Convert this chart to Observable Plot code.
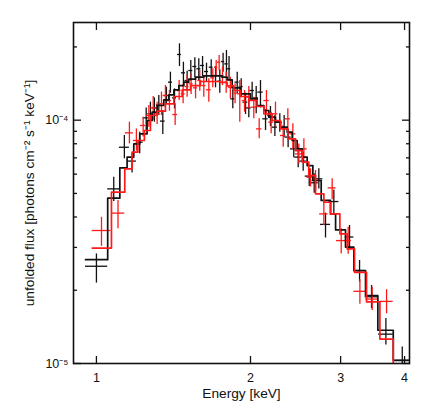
<!DOCTYPE html>
<html><head><meta charset="utf-8">
<script src="https://cdn.jsdelivr.net/npm/d3@7"></script>
<script src="https://cdn.jsdelivr.net/npm/@observablehq/plot@0.6"></script>
<style>body{margin:0;background:#fff} svg{display:block}</style>
</head><body><div id="chart"></div>
<script>
// flux values are in units of 1e-5 photons cm^-2 s^-1 keV^-1
const UNIT = 1e-5;
const xTicks = [1, 2, 3, 4];
const yMajor = [1e-5, 1e-4];
const yMajorLabels = ["10⁻⁵", "10⁻⁴"];
const yMinor = [2e-5, 3e-5, 4e-5, 5e-5, 6e-5, 7e-5, 8e-5, 9e-5, 2e-4];
const xLabel = "Energy [keV]";
const yLabel = "unfolded flux [photons cm⁻² s⁻¹ keV⁻¹]";

// black data set
const blackE   = [1.000,1.081,1.134,1.174,1.215,1.251,1.275,1.298,1.324,1.348,1.370,1.395,1.421,1.453,1.479,1.504,1.529,1.557,1.585,1.612,1.641,1.676,1.709,1.742,1.768,1.795,1.816,1.847,1.884,1.918,1.956,1.985,2.015,2.052,2.092,2.140,2.188,2.232,2.282,2.327,2.369,2.430,2.479,2.535,2.605,2.664,2.720,2.803,2.910,3.123,3.267,3.448,3.678,3.959];
const blackElo = [0.952,1.052,1.109,1.151,1.197,1.234,1.260,1.285,1.310,1.334,1.356,1.383,1.408,1.440,1.466,1.490,1.515,1.543,1.571,1.597,1.626,1.661,1.693,1.726,1.756,1.781,1.803,1.830,1.866,1.900,1.935,1.965,1.994,2.030,2.067,2.114,2.162,2.205,2.255,2.299,2.338,2.394,2.441,2.497,2.558,2.616,2.672,2.741,2.846,3.063,3.184,3.351,3.558,3.830];
const blackEhi = [1.052,1.111,1.160,1.197,1.234,1.268,1.291,1.312,1.338,1.362,1.385,1.408,1.434,1.466,1.493,1.517,1.543,1.571,1.600,1.626,1.656,1.690,1.724,1.758,1.781,1.809,1.830,1.863,1.900,1.935,1.976,2.006,2.036,2.073,2.117,2.165,2.214,2.258,2.309,2.355,2.401,2.467,2.516,2.573,2.652,2.713,2.770,2.867,2.977,3.184,3.351,3.548,3.802,4.092];
const blackF   = [2.51,5.22,7.74,6.79,8.12,10.22,10.62,11.23,11.56,9.91,12.63,14.33,12.35,18.62,15.65,14.55,16.00,16.62,16.26,16.78,15.85,16.51,15.26,14.46,17.42,17.04,16.26,12.24,14.33,13.75,11.86,11.23,13.24,12.35,13.04,10.13,10.45,9.36,9.81,9.30,8.52,7.62,7.05,6.79,5.89,5.53,5.74,3.73,4.63,3.31,2.41,1.88,1.32,1.03];
const blackFhi = [2.82,5.83,8.65,7.27,8.93,11.23,11.86,12.35,12.63,10.96,13.66,15.75,13.45,20.59,17.31,15.90,17.59,18.04,17.87,18.26,17.15,17.70,16.62,16.10,18.85,19.33,18.26,13.33,15.75,14.79,12.91,12.43,14.33,13.75,14.55,11.03,11.38,10.45,10.62,10.45,9.13,8.20,7.74,7.39,6.31,6.02,6.31,4.15,5.17,3.69,2.65,2.09,1.53,1.17];
const blackFlo = [2.14,4.63,6.94,6.06,7.27,9.01,9.51,9.81,10.45,8.73,11.60,12.91,11.13,16.62,14.10,13.16,14.46,14.93,14.55,15.12,14.33,14.93,13.58,12.91,15.75,15.12,14.46,11.13,12.83,12.35,10.55,10.22,11.97,10.62,11.23,9.07,9.42,8.57,8.93,8.46,7.70,7.00,6.37,6.17,5.34,5.01,5.21,3.28,4.12,2.93,2.16,1.68,1.19,0.91];

// red data set
const redE   = [1.023,1.102,1.160,1.197,1.234,1.266,1.291,1.314,1.340,1.364,1.389,1.425,1.451,1.477,1.504,1.531,1.562,1.592,1.621,1.658,1.688,1.714,1.737,1.763,1.793,1.827,1.866,1.906,1.947,1.985,2.030,2.080,2.149,2.195,2.238,2.317,2.366,2.420,2.486,2.543,2.620,2.680,2.782,2.888,3.008,3.104,3.272,3.458,3.689];
const redElo = [0.981,1.070,1.139,1.181,1.219,1.251,1.277,1.300,1.326,1.350,1.377,1.410,1.438,1.464,1.490,1.517,1.547,1.578,1.607,1.641,1.673,1.701,1.724,1.750,1.776,1.811,1.850,1.886,1.927,1.967,2.006,2.055,2.124,2.172,2.214,2.289,2.338,2.387,2.449,2.505,2.577,2.636,2.730,2.836,2.945,3.056,3.184,3.360,3.580];
const redEhi = [1.067,1.136,1.181,1.214,1.249,1.281,1.304,1.328,1.354,1.379,1.402,1.440,1.464,1.490,1.517,1.545,1.576,1.607,1.636,1.676,1.703,1.726,1.750,1.776,1.809,1.843,1.884,1.927,1.967,2.002,2.055,2.105,2.175,2.218,2.262,2.344,2.394,2.453,2.524,2.581,2.661,2.725,2.836,2.940,3.070,3.150,3.360,3.558,3.800];
const redF   = [3.52,4.15,8.87,8.25,9.51,10.45,11.23,10.62,11.67,12.63,12.04,10.55,13.24,12.83,13.75,14.10,13.58,14.55,13.88,13.33,14.93,16.51,17.31,15.26,14.33,13.66,12.91,12.83,12.04,12.43,11.31,9.21,12.04,9.81,10.62,8.65,10.13,8.79,7.27,7.62,5.83,5.65,4.12,5.27,3.20,3.20,1.98,1.84,1.80];
const redFhi = [3.99,4.68,9.81,9.21,10.29,11.49,12.51,11.86,13.04,13.88,13.24,11.67,14.55,14.10,15.26,15.50,14.93,16.00,15.26,14.79,16.26,17.59,18.44,16.51,15.75,15.02,14.10,14.55,13.24,13.75,12.43,10.13,13.24,10.79,11.86,9.51,11.13,9.66,7.99,8.38,6.31,6.21,4.68,5.74,3.58,3.63,2.21,2.06,2.01];
const redFlo = [3.03,3.58,7.99,7.46,8.52,9.36,9.97,9.60,10.45,11.31,10.89,9.51,12.04,11.67,12.43,12.75,12.24,13.16,12.43,11.86,13.58,15.12,16.00,13.88,12.91,12.24,11.67,9.81,10.79,11.13,10.13,8.38,10.62,8.79,9.36,7.74,9.07,7.62,6.61,6.87,5.31,5.14,3.69,4.71,2.82,2.81,1.75,1.65,1.60];

// folded model (step histograms)
const blackModelEdges = [0.952,1.052,1.111,1.148,1.183,1.215,1.256,1.285,1.314,1.354,1.385,1.417,1.449,1.482,1.515,1.562,1.621,1.760,1.801,1.842,1.912,2.000,2.061,2.124,2.172,2.238,2.289,2.359,2.413,2.467,2.524,2.581,2.648,2.749,2.867,2.933,3.067,3.184,3.356,3.547,3.802,4.078];
const blackModel = [2.67,4.78,6.37,7.05,7.99,8.79,9.97,10.79,11.49,12.12,12.71,13.32,13.88,14.33,14.74,15.02,15.21,15.02,14.65,13.58,12.83,12.24,11.49,10.96,10.29,9.81,9.36,8.93,8.25,7.62,7.05,6.51,5.65,4.68,4.12,3.54,3.01,2.41,1.90,1.37,1.03];
const redModelEdges = [0.981,1.070,1.136,1.174,1.205,1.241,1.275,1.314,1.364,1.417,1.471,1.527,1.597,1.747,1.801,1.855,1.912,1.985,2.061,2.124,2.205,2.289,2.366,2.449,2.524,2.600,2.680,2.782,2.867,2.990,3.090,3.194,3.371,3.580,3.802,4.098];
const redModel = [2.98,5.06,6.31,7.39,8.25,9.07,10.45,10.89,11.67,12.51,13.32,13.88,14.42,14.28,13.84,13.24,12.51,12.05,11.38,10.62,9.97,9.21,8.38,7.50,6.72,5.92,4.98,4.60,4.12,3.41,2.96,2.37,1.79,1.26,0.88];

const BLACK = "#111";
const RED = "#ff1a1a";

function rows(E, Elo, Ehi, F, Fhi, Flo) {
  return E.map((e, i) => ({E: e, Elo: Elo[i], Ehi: Ehi[i], F: F[i] * UNIT, Fhi: Fhi[i] * UNIT, Flo: Flo[i] * UNIT}));
}
function steps(edges, vals) {
  return edges.map((e, i) => ({E: e, M: vals[Math.min(i, vals.length - 1)] * UNIT}));
}
const blackRows = rows(blackE, blackElo, blackEhi, blackF, blackFhi, blackFlo);
const redRows = rows(redE, redElo, redEhi, redF, redFhi, redFlo);
const blackSteps = steps(blackModelEdges, blackModel);
const redSteps = steps(redModelEdges, redModel);

function crosses(data, color) {
  return [
    Plot.ruleY(data, {y: "F", x1: "Elo", x2: "Ehi", stroke: color, strokeWidth: 1.3, clip: true}),
    Plot.ruleX(data, {x: "E", y1: "Flo", y2: "Fhi", stroke: color, strokeWidth: 1.3, clip: true})
  ];
}

const chart = Plot.plot({
  width: 431,
  height: 410,
  marginLeft: 73,
  marginRight: 22,
  marginTop: 22,
  marginBottom: 47,
  style: {fontFamily: "'Liberation Sans', Arial, sans-serif", fontSize: "12px", color: "#111", background: "#fff"},
  x: {type: "log", domain: [0.902, 4.09]},
  y: {type: "log", domain: [1e-5, 2.52e-4]},
  marks: [
    ...crosses(blackRows, BLACK),
    ...crosses(redRows, RED),
    Plot.line(blackSteps, {x: "E", y: "M", curve: "step-after", stroke: BLACK, strokeWidth: 1.7, clip: true}),
    Plot.line(redSteps, {x: "E", y: "M", curve: "step-after", stroke: RED, strokeWidth: 1.7, clip: true}),
    // inward ticks on all four sides
    Plot.axisX({ticks: xTicks, anchor: "bottom", tickSize: -7, tickFormat: () => "", label: null, strokeWidth: 1.3}),
    Plot.axisX({ticks: xTicks, anchor: "top", tickSize: -7, tickFormat: () => "", label: null, strokeWidth: 1.3}),
    Plot.axisY({ticks: yMajor, anchor: "left", tickSize: -8, tickFormat: () => "", label: null, strokeWidth: 1.3}),
    Plot.axisY({ticks: yMajor, anchor: "right", tickSize: -8, tickFormat: () => "", label: null, strokeWidth: 1.3}),
    Plot.axisY({ticks: yMinor, anchor: "left", tickSize: -4, tickFormat: () => "", label: null, strokeWidth: 1.3}),
    Plot.axisY({ticks: yMinor, anchor: "right", tickSize: -4, tickFormat: () => "", label: null, strokeWidth: 1.3}),
    // tick labels
    Plot.axisX({ticks: xTicks, anchor: "bottom", tickSize: 0, tickPadding: 10, tickFormat: d => String(d), label: null, fontSize: 12.5}),
    Plot.axisY({ticks: yMajor, anchor: "left", tickSize: 0, tickPadding: 5, tickFormat: d => yMajorLabels[yMajor.indexOf(d)], label: null, fontSize: 12.5}),
    Plot.frame({stroke: "#111", strokeWidth: 1.6}),
    Plot.text([xLabel], {frameAnchor: "bottom", dy: 30, textAnchor: "middle", lineAnchor: "middle", text: d => d, fontSize: 13.7, fill: "#111"}),
    Plot.text([yLabel], {frameAnchor: "left", dx: -44, rotate: -90, textAnchor: "middle", lineAnchor: "middle", text: d => d, fontSize: 13.7, fill: "#111"})
  ]
});
document.getElementById("chart").appendChild(chart);
</script>
</body></html>
